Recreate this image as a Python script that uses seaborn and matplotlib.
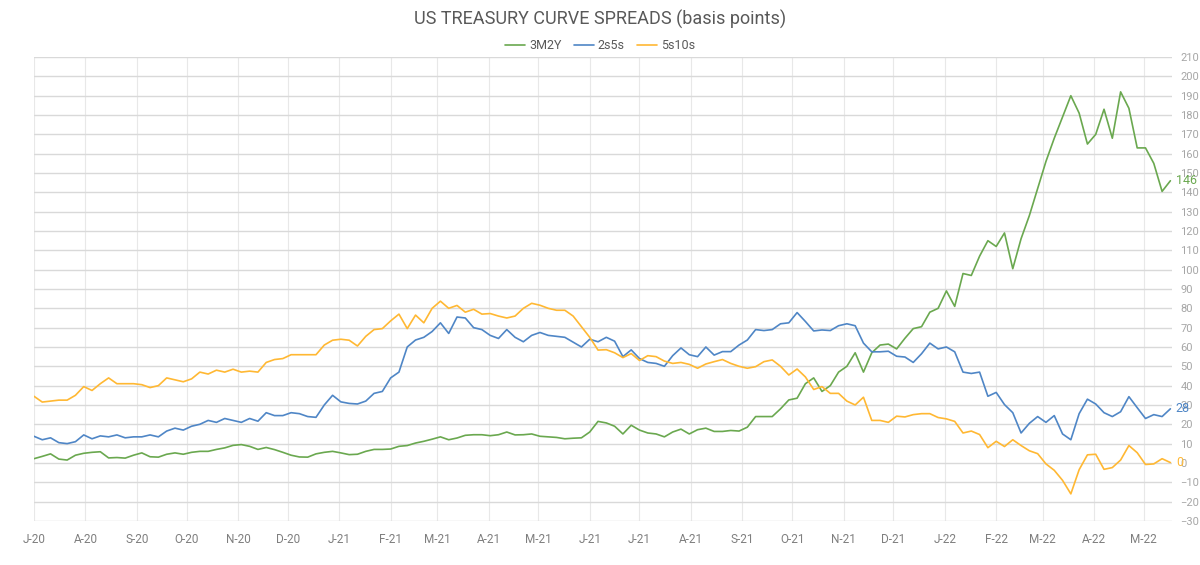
import pandas as pd
import matplotlib
matplotlib.use("Agg")
import matplotlib.pyplot as plt
import matplotlib.dates as mdates
from matplotlib.ticker import FuncFormatter
import seaborn as sns

# spreads in bp, sampled every 5 days from 1 Jul 2020
start = "2020-07-01"
step = "5D"

spread_3m2y = [
    2.2, 3.4, 4.7, 2.0, 1.5, 4.0, 5.0, 5.5, 5.8, 2.6, 2.8, 2.5, 4.0, 5.2, 3.2, 3.0,
    4.5, 5.2, 4.5, 5.5, 6.0, 6.0, 7.0, 7.8, 9.1, 9.5, 8.6, 7.0, 8.0, 6.9, 5.5, 4.0,
    3.1, 3.0, 4.7, 5.5, 6.0, 5.2, 4.3, 4.5, 6.0, 7.0, 7.0, 7.2, 8.6, 9.0, 10.3, 11.2,
    12.3, 13.5, 12.0, 12.9, 14.3, 14.6, 14.6, 14.1, 14.6, 16.0, 14.5, 14.6, 15.0, 13.8,
    13.5, 13.2, 12.5, 12.8, 13.0, 16.0, 21.5, 20.7, 19.0, 15.0, 19.5, 17.0, 15.5, 15.0,
    13.5, 16.0, 17.5, 15.0, 17.2, 18.0, 16.3, 16.3, 16.8, 16.5, 18.5, 24.0, 24.0, 24.0,
    28.0, 32.6, 33.5, 41.0, 44.0, 37.0, 40.0, 47.0, 50.0, 57.0, 47.0, 57.0, 61.0, 61.5,
    59.0, 64.5, 69.5, 70.5, 78.0, 80.0, 89.0, 81.0, 98.0, 97.0, 107.0, 115.0, 112.0, 119.0,
    100.5, 116.0, 128.0, 142.0, 156.0, 168.0, 179.0, 190.0, 181.0, 165.0, 170.0, 183.0,
    168.0, 192.0, 183.5, 163.0, 163.0, 155.0, 140.5, 146.0,
]

spread_2s5s = [
    13.8, 12.0, 13.0, 10.5, 10.0, 11.0, 14.5, 12.5, 14.0, 13.5, 14.5, 13.0, 13.5, 13.5,
    14.5, 13.5, 16.5, 18.0, 17.0, 19.0, 20.0, 22.0, 21.0, 23.0, 22.0, 21.0, 23.0, 21.6,
    26.0, 24.5, 24.5, 26.0, 25.5, 24.0, 23.6, 30.0, 35.0, 31.6, 30.8, 30.5, 32.0, 36.0,
    37.0, 44.0, 47.0, 60.0, 63.6, 65.0, 68.0, 72.5, 67.0, 75.5, 75.0, 70.0, 69.0, 66.0,
    64.4, 69.0, 65.0, 62.7, 66.0, 67.5, 66.0, 65.5, 65.0, 62.5, 60.0, 64.0, 62.7, 65.0,
    63.0, 55.0, 58.5, 54.0, 52.0, 51.5, 50.0, 55.5, 59.5, 56.0, 55.0, 60.0, 55.8, 57.6,
    57.6, 61.0, 63.6, 69.0, 68.5, 69.0, 72.0, 72.5, 77.8, 73.2, 68.3, 68.8, 68.5, 71.0,
    72.0, 71.0, 62.0, 57.5, 57.5, 57.8, 55.2, 54.8, 52.0, 56.5, 62.0, 59.0, 60.0, 57.5,
    47.0, 46.3, 47.0, 34.5, 36.5, 30.2, 26.0, 15.5, 20.5, 24.0, 21.0, 24.5, 15.0, 12.0,
    25.5, 33.0, 30.5, 26.0, 24.0, 26.5, 34.3, 28.6, 23.0, 25.0, 24.0, 28.0,
]

spread_5s10s = [
    34.5, 31.5, 32.0, 32.5, 32.5, 35.0, 39.5, 37.5, 41.0, 44.0, 41.0, 41.0, 41.0, 40.5,
    39.0, 40.0, 44.0, 43.0, 42.0, 43.5, 47.0, 46.0, 48.0, 47.0, 48.5, 47.0, 47.5, 47.0,
    52.0, 53.5, 54.0, 56.0, 56.0, 56.0, 56.0, 61.0, 63.5, 64.0, 63.5, 60.5, 65.5, 69.0,
    69.5, 73.5, 77.0, 69.5, 76.5, 72.5, 80.0, 83.7, 80.0, 81.5, 78.0, 79.5, 77.0, 77.3,
    76.0, 75.0, 76.0, 80.0, 82.6, 81.6, 80.0, 79.0, 79.0, 76.0, 70.5, 65.0, 58.4, 58.6,
    57.0, 54.5, 56.6, 53.0, 55.5, 55.0, 52.7, 51.5, 52.0, 51.0, 49.0, 51.2, 52.4, 53.5,
    51.5, 50.0, 49.0, 49.8, 52.4, 53.3, 50.0, 45.5, 48.6, 44.5, 38.0, 39.5, 36.0, 36.0,
    32.0, 30.0, 34.0, 22.0, 22.0, 21.0, 24.2, 23.8, 25.0, 25.5, 25.5, 23.5, 22.8, 21.5,
    15.5, 16.5, 14.7, 7.9, 11.2, 8.5, 12.0, 9.0, 6.3, 4.8, -0.5, -3.8, -9.0, -16.0,
    -3.5, 4.2, 4.5, -3.3, -2.4, 1.5, 9.0, 5.3, -0.8, -0.5, 2.2, 0.2,
]

series_names = ["3M2Y", "2s5s", "5s10s"]
colors = {"3M2Y": "#6aa84f", "2s5s": "#4f86c6", "5s10s": "#ffb833"}

dates = pd.date_range(start, periods=len(spread_3m2y), freq=step)
df = pd.DataFrame({"date": dates, "3M2Y": spread_3m2y,
                   "2s5s": spread_2s5s, "5s10s": spread_5s10s})
long_df = df.melt("date", var_name="spread", value_name="bp")

sns.set_theme(style="white")
plt.rcParams["font.family"] = ["Roboto", "DejaVu Sans"]

fig, ax = plt.subplots(figsize=(12, 5.65), dpi=100)
fig.subplots_adjust(left=0.0283, right=0.9767, top=0.899, bottom=0.078)

sns.lineplot(data=long_df, x="date", y="bp", hue="spread", hue_order=series_names,
             palette=colors, linewidth=1.2, ax=ax)

# axes styling
ax.set_xlim(pd.Timestamp("2020-07-01"), pd.Timestamp("2022-05-18"))
ax.set_ylim(-30, 210)
ax.set_yticks(range(-30, 211, 10))
ax.yaxis.tick_right()
ax.tick_params(axis="y", length=0, pad=6, labelsize=8, labelcolor="#a6a6a6")
ax.tick_params(axis="x", length=0, pad=9, labelsize=8.5, labelcolor="#7f7f7f")
ax.xaxis.set_major_locator(mdates.MonthLocator())
ax.xaxis.set_major_formatter(FuncFormatter(
    lambda v, pos: mdates.num2date(v).strftime("%b")[0] + "-" + mdates.num2date(v).strftime("%y")))
ax.grid(True, axis="y", color="#d9d9d9", linewidth=1.0)
ax.grid(True, axis="x", color="#e8e8e8", linewidth=0.8)
for s in ax.spines.values():
    s.set_visible(False)
ax.set_xlabel("")
ax.set_ylabel("")

# last value labels
for name in series_names:
    last = df[name].iloc[-1]
    ax.annotate(f"{last:.0f}", xy=(df["date"].iloc[-1], last), xytext=(4, 0),
                textcoords="offset points", ha="left", va="center",
                fontsize=9, color=colors[name], annotation_clip=False)

fig.text(0.5, 0.966, "US TREASURY CURVE SPREADS (basis points)", ha="center",
         va="center", fontsize=13, color="#595959")
handles, labels = ax.get_legend_handles_labels()
ax.legend(handles, labels, loc="center", bbox_to_anchor=(0.5, 0.919),
          bbox_transform=fig.transFigure, ncol=3, frameon=False, fontsize=9,
          handlelength=1.6, handletextpad=0.3, columnspacing=1.0,
          labelcolor="#595959")

fig.savefig("out.png", dpi=100)
